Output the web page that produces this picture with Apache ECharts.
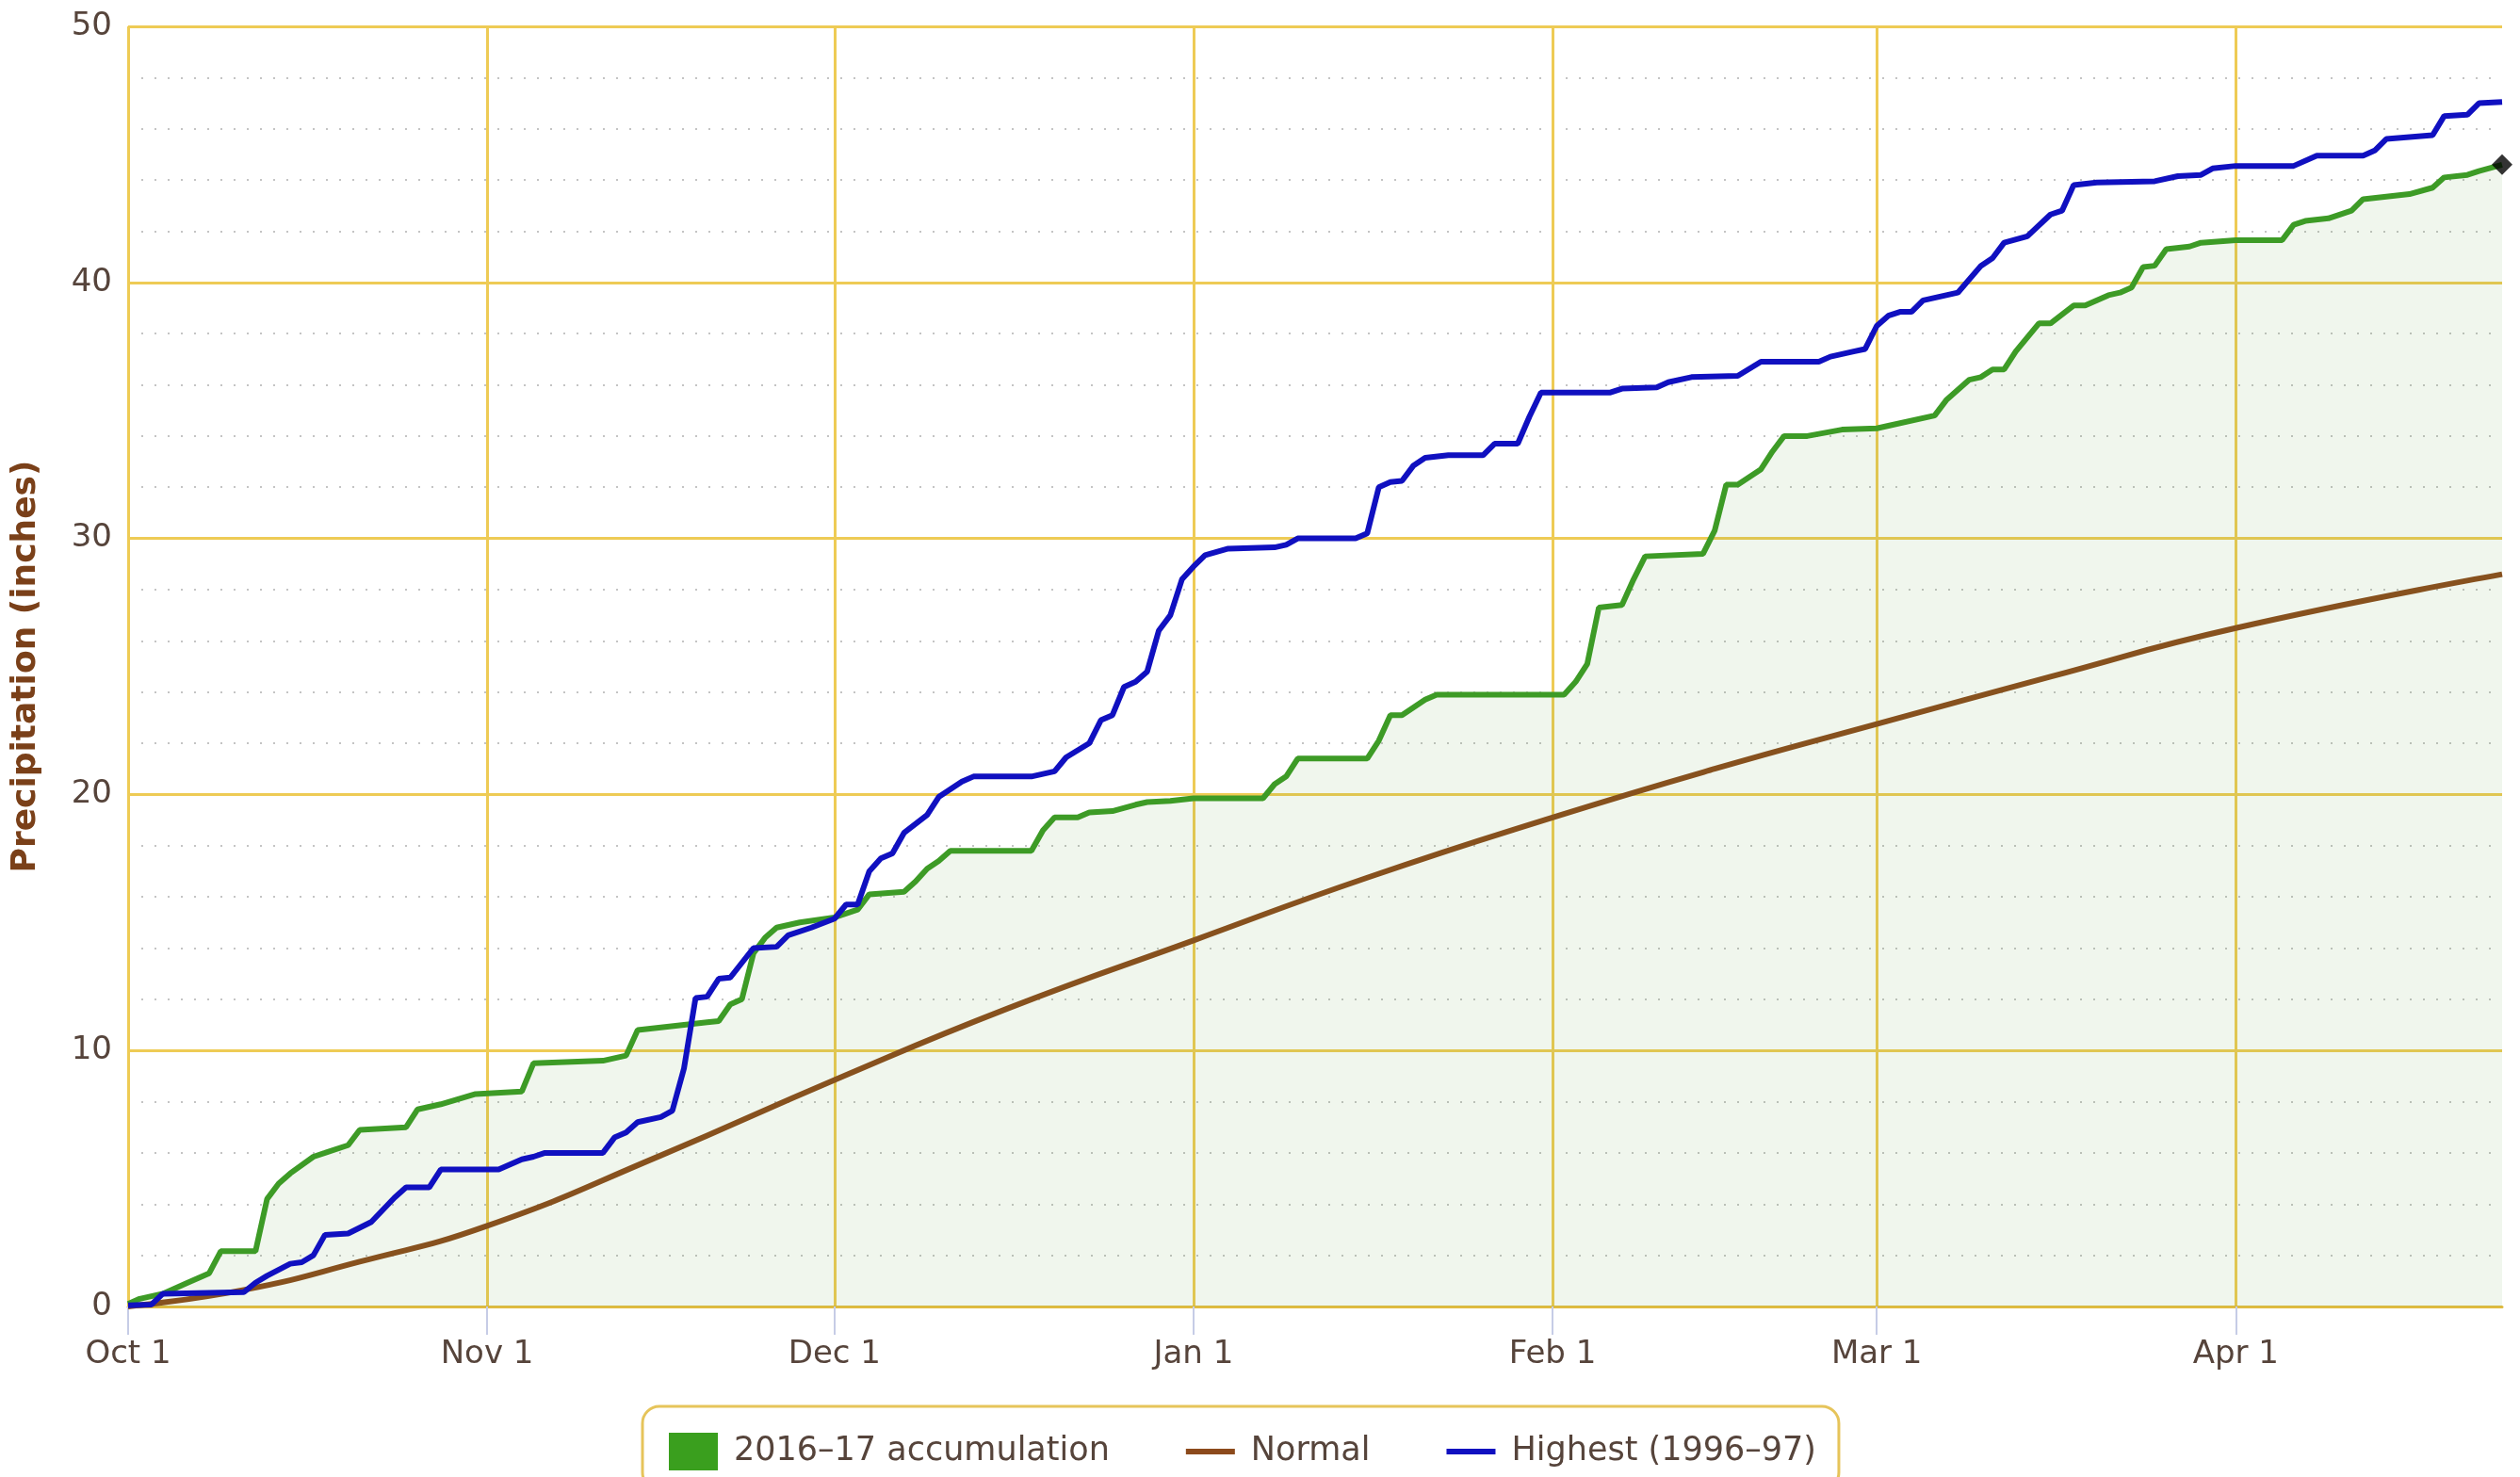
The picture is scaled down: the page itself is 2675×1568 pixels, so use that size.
<!DOCTYPE html>
<html>
<head>
<meta charset="utf-8">
<title>Precipitation accumulation</title>
<script src="https://cdn.jsdelivr.net/npm/echarts@6/dist/echarts.min.js"></script>
<style>
  html, body { margin: 0; padding: 0; background: #fff; }
  #chart { width: 2675px; height: 1568px; }
</style>
</head>
<body>
<div id="chart"></div>
<script>
// x is the day number counted from Oct 1 (2016), last day shown is Apr 24
var monthNames = ['Oct', 'Nov', 'Dec', 'Jan', 'Feb', 'Mar', 'Apr'];
var monthLengths = [31, 30, 31, 31, 28, 31, 24];
var monthStarts = [0, 31, 61, 92, 123, 151, 182];

// 2016-17 accumulation [day, inches]
var accumulation = [
  [0, 0.1], [1, 0.3], [2, 0.4], [3, 0.5], [5, 0.9], [7, 1.3], [8, 2.16], [11, 2.16],
  [12, 4.2], [13, 4.8], [14, 5.2], [16, 5.85], [17, 6.0], [19, 6.3], [20, 6.9], [24, 7.0],
  [25, 7.7], [27, 7.9], [30, 8.3], [34, 8.4], [35, 9.5], [41, 9.6], [43, 9.8], [44, 10.8],
  [46, 10.9], [50, 11.1], [51, 11.15], [52, 11.8], [53, 12.0], [54, 13.8], [55, 14.4], [56, 14.8],
  [58, 15.0], [61, 15.2], [63, 15.5], [64, 16.1], [67, 16.2], [68, 16.6], [69, 17.1], [70, 17.4],
  [71, 17.8], [78, 17.8], [79, 18.6], [80, 19.1], [82, 19.1], [83, 19.3], [85, 19.35], [87, 19.6],
  [88, 19.7], [90, 19.75], [92, 19.85], [98, 19.85], [99, 20.4], [100, 20.7], [101, 21.4], [107, 21.4],
  [108, 22.1], [109, 23.1], [110, 23.1], [112, 23.7], [113, 23.9], [124, 23.9], [125, 24.4], [126, 25.1],
  [127, 27.3], [129, 27.4], [130, 28.4], [131, 29.3], [136, 29.4], [137, 30.3], [138, 32.1], [139, 32.1],
  [141, 32.7], [142, 33.4], [143, 34.0], [145, 34.0], [148, 34.25], [151, 34.3], [152, 34.4], [156, 34.8],
  [157, 35.4], [159, 36.2], [160, 36.3], [161, 36.6], [162, 36.6], [163, 37.3], [165, 38.4], [166, 38.4],
  [168, 39.1], [169, 39.1], [171, 39.5], [172, 39.6], [173, 39.8], [174, 40.6], [175, 40.65], [176, 41.3],
  [178, 41.4], [179, 41.55], [182, 41.65], [186, 41.65], [187, 42.25], [188, 42.4], [190, 42.5], [192, 42.8],
  [193, 43.25], [195, 43.35], [197, 43.45], [199, 43.7], [200, 44.1], [202, 44.2], [203, 44.35], [205, 44.6]
];

// normal accumulation [day, inches]
var normal = [
  [0, 0], [10, 0.65], [20, 1.75], [31, 3.15], [46, 5.9], [61, 8.85], [76, 11.65], [92, 14.3],
  [107, 16.75], [123, 19.1], [137, 21.0], [151, 22.75], [166, 24.6], [182, 26.5], [205, 28.6]
];

// highest season (1996-97) [day, inches]
var highest = [
  [0, 0.05], [2, 0.07], [3, 0.5], [10, 0.56], [11, 0.93], [12, 1.2], [14, 1.67], [15, 1.73],
  [16, 2.0], [17, 2.8], [19, 2.85], [21, 3.3], [23, 4.25], [24, 4.65], [26, 4.65], [27, 5.35],
  [32, 5.35], [34, 5.75], [35, 5.85], [36, 6.0], [41, 6.0], [42, 6.6], [43, 6.8], [44, 7.2],
  [46, 7.4], [47, 7.65], [48, 9.3], [49, 12.05], [50, 12.1], [51, 12.8], [52, 12.85], [54, 14.0],
  [56, 14.05], [57, 14.5], [59, 14.8], [61, 15.15], [62, 15.7], [63, 15.7], [64, 17.0], [65, 17.5],
  [66, 17.7], [67, 18.5], [69, 19.2], [70, 19.9], [72, 20.5], [73, 20.7], [78, 20.7], [80, 20.9],
  [81, 21.45], [83, 22.0], [84, 22.9], [85, 23.1], [86, 24.2], [87, 24.4], [88, 24.8], [89, 26.4],
  [90, 27.0], [91, 28.4], [92, 28.9], [93, 29.35], [95, 29.6], [99, 29.65], [100, 29.75], [101, 30.0],
  [106, 30.0], [107, 30.2], [108, 32.0], [109, 32.2], [110, 32.25], [111, 32.85], [112, 33.15], [114, 33.25],
  [117, 33.25], [118, 33.7], [120, 33.7], [121, 34.75], [122, 35.7], [128, 35.7], [129, 35.85], [132, 35.9],
  [133, 36.1], [135, 36.3], [139, 36.35], [141, 36.9], [146, 36.9], [147, 37.1], [149, 37.3], [150, 37.4],
  [151, 38.3], [152, 38.7], [153, 38.85], [154, 38.85], [155, 39.3], [157, 39.5], [158, 39.6], [160, 40.65],
  [161, 40.95], [162, 41.55], [164, 41.8], [166, 42.65], [167, 42.8], [168, 43.8], [170, 43.9], [175, 43.95],
  [177, 44.15], [179, 44.2], [180, 44.45], [182, 44.55], [187, 44.55], [189, 44.95], [193, 44.95], [194, 45.15],
  [195, 45.6], [199, 45.75], [200, 46.5], [202, 46.55], [203, 47.0], [205, 47.05]
];

var days = [];
for (var m = 0; m < monthNames.length; m++) {
  for (var d = 1; d <= monthLengths[m]; d++) {
    days.push(monthNames[m] + ' ' + d);
  }
}

var font = 'DejaVu Sans';
var textColor = '#56443b';
var gridColor = '#eecb55';

function isMonthStart(idx) {
  return monthStarts.indexOf(idx) >= 0;
}

var chart = echarts.init(document.getElementById('chart'));
var option = {
  backgroundColor: '#ffffff',
  animation: false,
  grid: {
    left: 136,
    right: 19,
    top: 28,
    bottom: 181,
    outerBoundsMode: 'none'
  },
  legend: {
    left: 682,
    top: 1493,
    data: [
      { name: '2016–17 accumulation', icon: 'rect' },
      { name: 'Normal', itemStyle: { opacity: 0 } },
      { name: 'Highest (1996–97)', itemStyle: { opacity: 0 } }
    ],
    itemWidth: 52,
    itemHeight: 40,
    itemGap: 78,
    padding: [28, 24, 20, 28],
    borderColor: '#e6c45a',
    borderWidth: 3,
    borderRadius: 18,
    backgroundColor: '#ffffff',
    selectedMode: false,
    lineStyle: { width: 6 },
    textStyle: { color: textColor, fontSize: 35, fontFamily: font, padding: [0, 0, 0, 12] }
  },
  xAxis: {
    type: 'category',
    data: days,
    boundaryGap: false,
    axisLine: { lineStyle: { color: '#e0bb40', width: 3 } },
    axisTick: {
      interval: isMonthStart,
      length: 30,
      lineStyle: { color: '#c6cce6', width: 2 }
    },
    axisLabel: {
      interval: isMonthStart,
      margin: 34,
      color: textColor,
      fontSize: 34,
      fontFamily: font
    },
    splitLine: {
      show: true,
      interval: isMonthStart,
      lineStyle: { color: gridColor, width: 3 }
    }
  },
  yAxis: {
    type: 'value',
    min: 0,
    max: 50,
    interval: 10,
    name: 'Precipitation (inches)',
    nameLocation: 'middle',
    nameRotate: 90,
    nameGap: 90,
    nameTextStyle: { color: '#7a4019', fontSize: 36, fontWeight: 'bold', fontFamily: font },
    axisLine: { show: false },
    axisTick: { show: false },
    axisLabel: { color: textColor, fontSize: 34, fontFamily: font, margin: 17 },
    splitLine: { lineStyle: { color: gridColor, width: 3 } },
    minorTick: { show: false, splitNumber: 5 },
    minorSplitLine: { show: true, lineStyle: { color: '#c4c4c4', width: 2, type: [2, 12] } }
  },
  series: [
    {
      name: 'Normal',
      type: 'line',
      data: normal,
      smooth: true,
      symbol: 'none',
      lineStyle: { color: '#8c4a1c', width: 6 },
      itemStyle: { color: '#8c4a1c' },
      z: 2
    },
    {
      name: '2016–17 accumulation',
      type: 'line',
      data: accumulation,
      symbol: 'none',
      lineStyle: { color: '#3d9b26', width: 6 },
      itemStyle: { color: '#3a9f1e' },
      areaStyle: { color: 'rgba(90,160,50,0.13)' },
      z: 3
    },
    {
      name: 'Highest (1996–97)',
      type: 'line',
      data: highest,
      symbol: 'none',
      lineStyle: { color: '#1010c0', width: 6 },
      itemStyle: { color: '#1010c0' },
      z: 4
    },
    {
      name: 'latest',
      type: 'scatter',
      data: [accumulation[accumulation.length - 1]],
      symbol: 'diamond',
      symbolSize: 22,
      itemStyle: { color: '#000000' },
      z: 5
    }
  ]
};
chart.setOption(option);
</script>
</body>
</html>
